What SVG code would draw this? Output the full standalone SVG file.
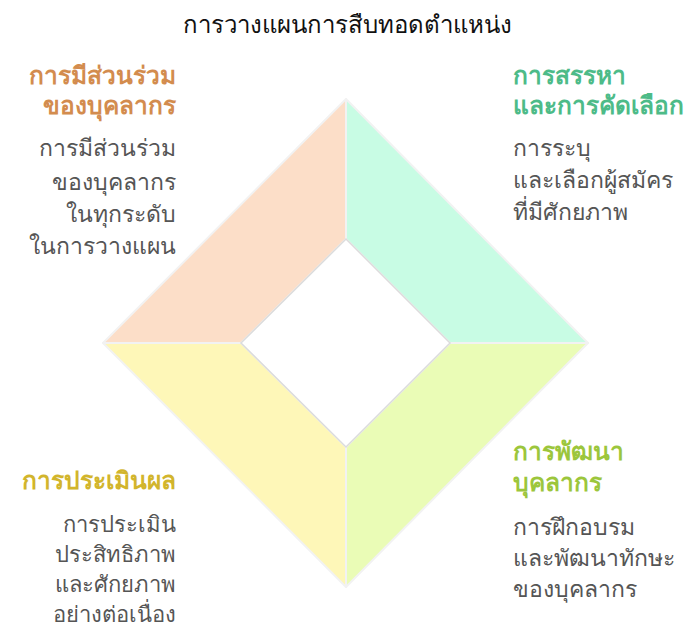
<svg xmlns="http://www.w3.org/2000/svg" width="695" height="629" viewBox="0 0 695 629">
<style>
text{font-family:"Noto Sans","DejaVu Sans",sans-serif}
.title{font-size:24px;fill:#111;text-anchor:middle}
.h{font-size:24.5px;font-weight:bold}
.b{font-size:23px;fill:#555}
.bs{font-size:22px}
.r{text-anchor:end}
.l{text-anchor:start}
.seg{stroke:#f2f2f2;stroke-width:2;stroke-linejoin:round}
</style>
<rect width="695" height="629" fill="#fff"/>
<text class="title" x="347" y="33">การวางแผนการสืบทอดตำแหน่ง</text>
<g id="connectors"></g>
<g id="seg-tl"><polygon class="seg" fill="#fcdec8" points="346,99 346,239 241,343 103,343"/></g>
<g id="seg-tr"><polygon class="seg" fill="#c8fce4" points="346,99 588,343 450,343 346,239"/></g>
<g id="seg-br"><polygon class="seg" fill="#eafcb6" points="588,343 346,587 346,447 450,343"/></g>
<g id="seg-bl"><polygon class="seg" fill="#fef7b8" points="346,587 103,343 241,343 346,447"/></g>
<g id="center"><polygon fill="#fff" stroke="#dcdcdc" stroke-width="1.5" points="346,239 450,343 346,447 241,343"/></g>
<g id="n-tl">
<text class="h r" fill="#d38c4e" x="176" y="84">การมีส่วนร่วม</text>
<text class="h r" fill="#d38c4e" x="176" y="114">ของบุคลากร</text>
<text class="b r" x="176" y="156">การมีส่วนร่วม</text>
<text class="b r" x="176" y="190">ของบุคลากร</text>
<text class="b r" x="176" y="222">ในทุกระดับ</text>
<text class="b r" x="176" y="254">ในการวางแผน</text>
</g>
<g id="n-tr">
<text class="h l" fill="#4dbb88" x="513" y="84">การสรรหา</text>
<text class="h l" fill="#4dbb88" x="513" y="114">และการคัดเลือก</text>
<text class="b l" x="513" y="156">การระบุ</text>
<text class="b l" x="513" y="188">และเลือกผู้สมัคร</text>
<text class="b l" x="513" y="220">ที่มีศักยภาพ</text>
</g>
<g id="n-bl">
<text class="h r" fill="#d2b52c" x="176" y="489">การประเมินผล</text>
<text class="b bs r" x="176" y="532">การประเมิน</text>
<text class="b bs r" x="176" y="562">ประสิทธิภาพ</text>
<text class="b bs r" x="176" y="592">และศักยภาพ</text>
<text class="b bs r" x="176" y="622">อย่างต่อเนื่อง</text>
</g>
<g id="n-br">
<text class="h l" fill="#9cc63c" x="513" y="460">การพัฒนา</text>
<text class="h l" fill="#9cc63c" x="513" y="491">บุคลากร</text>
<text class="b l" x="513" y="535">การฝึกอบรม</text>
<text class="b l" x="513" y="566">และพัฒนาทักษะ</text>
<text class="b l" x="513" y="597">ของบุคลากร</text>
</g>
</svg>
